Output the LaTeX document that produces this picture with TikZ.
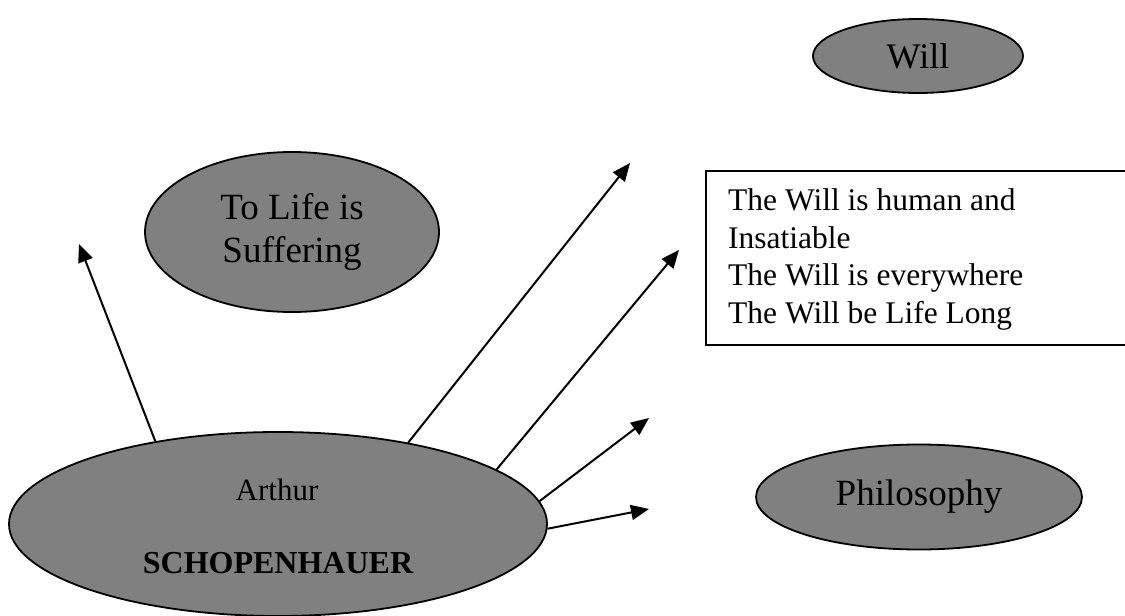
\documentclass[tikz,border=0pt]{standalone}
\usepackage{fontspec}
\setmainfont{Liberation Serif}
\usetikzlibrary{shapes.geometric,arrows.meta}
\definecolor{nodegray}{RGB}{128,128,128}
\tikzset{
  bubble/.style={ellipse, draw=black, line width=1.8pt, fill=nodegray, inner sep=0pt, align=center},
  conn/.style={line width=2pt, -{Triangle[length=18pt,width=15pt]}},
  boxline/.style={anchor=base west, inner sep=0pt, font=\fontsize{31.5}{37}\selectfont}
}
\begin{document}
\begin{tikzpicture}[x=1pt,y=-1pt]
\useasboundingbox (0,0) rectangle (1125,616);
\clip (0,0) rectangle (1125,616);
% ellipses
\node[bubble, minimum width=210pt, minimum height=74pt, font=\fontsize{36}{42}\selectfont] (will) at (918,56) {Will};
\node[bubble, minimum width=294pt, minimum height=160pt, font=\fontsize{37}{43}\selectfont] (life) at (292,232) {To Life is\\Suffering};
\node[bubble, minimum width=326pt, minimum height=105pt, font=\fontsize{37}{44}\selectfont] (phil) at (919,497) {Philosophy};
\node[bubble, minimum width=538pt, minimum height=184pt] (arthur) at (278,524) {};
\node[anchor=base, inner sep=0pt, font=\fontsize{31}{36}\selectfont] (first) at (277,500) {Arthur};
\node[anchor=base, inner sep=0pt, font=\fontsize{32}{38}\selectfont\bfseries] (last) at (278,573) {SCHOPENHAUER};
% box
\node[draw=black, line width=1.8pt, anchor=north west, minimum width=440pt, minimum height=174pt, inner sep=0pt] (box) at (705,170) {};
\node[boxline] (l1) at (728,210) {The Will is human and};
\node[boxline] (l2) at (728,248) {Insatiable};
\node[boxline] (l3) at (728,285) {The Will is everywhere};
\node[boxline] (l4) at (728,323) {The Will be Life Long};
% arrow ends
\coordinate (t1) at (79,244);
\coordinate (t2) at (630,163);
\coordinate (t3) at (679,250);
\coordinate (t4) at (649,418);
\coordinate (t5) at (649,509);
\draw[conn] (arthur.146.8) -- (t1);
\draw[conn] (arthur.32.9) -- (t2);
\draw[conn] (arthur.14.6) -- (t3);
\draw[conn] (arthur.5.75) -- (t4);
\draw[conn] (arthur.-1.7) -- (t5);
\end{tikzpicture}
\end{document}
